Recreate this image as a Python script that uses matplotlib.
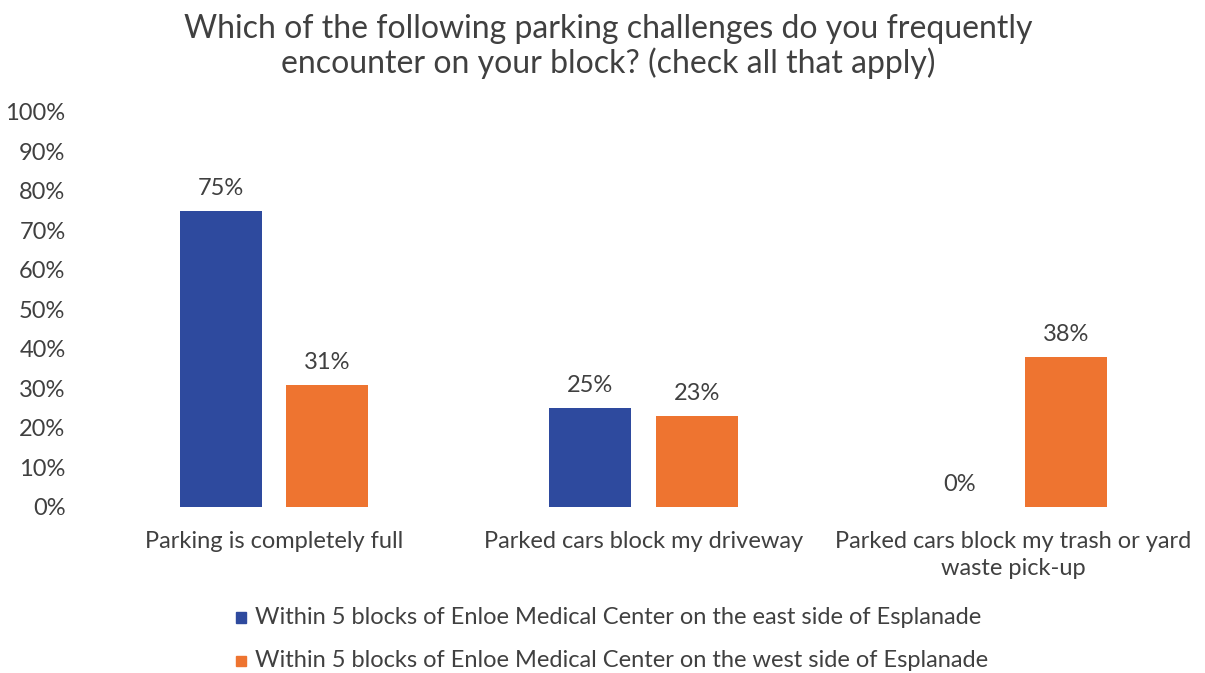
import matplotlib.pyplot as plt
import numpy as np

# survey results (share of respondents)
categories = ["Parking is completely full",
              "Parked cars block my driveway",
              "Parked cars block my trash or yard\nwaste pick-up"]
east_side = [75, 25, 0]
west_side = [31, 23, 38]
series_names = ["Within 5 blocks of Enloe Medical Center on the east side of Esplanade",
                "Within 5 blocks of Enloe Medical Center on the west side of Esplanade"]
y_ticks = [0, 10, 20, 30, 40, 50, 60, 70, 80, 90, 100]

blue = "#2E4A9E"
orange = "#EE7430"
text_color = "#404040"

plt.rcParams['font.family'] = ['Lato', 'DejaVu Sans']

fig = plt.figure(figsize=(12.05, 6.73), dpi=100)
ax = fig.add_axes([0.074, 0.2467, 0.92, 0.5869])

x = np.arange(len(categories))
w = 0.222
off = 0.144
b1 = ax.bar(x - off, east_side, w, color=blue)
b2 = ax.bar(x + off, west_side, w, color=orange)

for bars, vals in ((b1, east_side), (b2, west_side)):
    for b, v in zip(bars, vals):
        ax.text(b.get_x() + b.get_width() / 2, v + 3.0, f"{v}%", ha="center", va="bottom",
                fontsize=17, color=text_color)

ax.set_xlim(-0.5, 2.5)
ax.set_ylim(0, 100)
ax.set_yticks(y_ticks)
ax.set_yticklabels([f"{t}%" for t in y_ticks])
ax.set_xticks(x)
ax.set_xticklabels(categories, linespacing=1.35)
ax.tick_params(axis="both", length=0, labelsize=17, colors=text_color)
ax.tick_params(axis="y", pad=17)
ax.tick_params(axis="x", pad=17)
for s in ax.spines.values():
    s.set_visible(False)

fig.text(0.505, 0.931, "Which of the following parking challenges do you frequently\nencounter on your block? (check all that apply)",
         ha="center", va="center", fontsize=23, color=text_color, linespacing=1.15)

# legend rows
for i, (name, col) in enumerate(zip(series_names, [blue, orange])):
    fig.patches.append(plt.Rectangle((0.1955, 0.075 - i * 0.064), 0.0085, 0.0150,
                                     transform=fig.transFigure, color=col, figure=fig))
    fig.text(0.2115, 0.0825 - i * 0.064, name, ha="left", va="center", fontsize=17, color=text_color)

fig.savefig("out.png", dpi=100)
